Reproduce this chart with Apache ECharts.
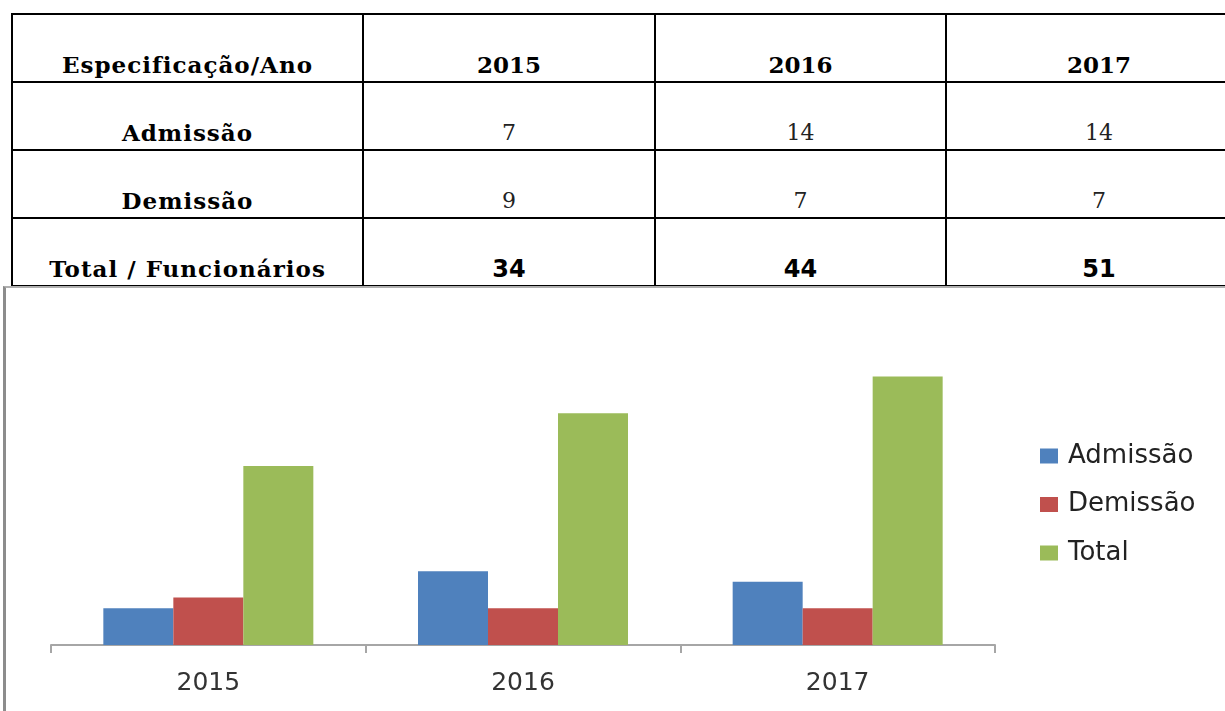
<!DOCTYPE html>
<html>
<head>
<meta charset="utf-8">
<script src="https://cdn.jsdelivr.net/npm/echarts@6/dist/echarts.min.js"></script>
<style>
  html, body { margin: 0; padding: 0; background: #fff; width: 1225px; height: 711px; overflow: hidden; position: relative; }
  #tabela { position: absolute; left: 11px; top: 13px; width: 1240px; border-collapse: collapse; table-layout: fixed; }
  #tabela td { border: 2px solid #000; height: 62px; padding: 0 0 4px 0; text-align: center; vertical-align: bottom; line-height: 24px; }
  #tabela td.rot { font-family: 'DejaVu Serif', serif; font-weight: bold; font-size: 23px; letter-spacing: 1px; }
  #tabela td.ano { font-family: 'DejaVu Serif', serif; font-weight: bold; font-size: 23px; }
  #tabela td.val { font-family: 'DejaVu Serif', serif; font-size: 22px; color: #222; }
  #tabela td.tot { font-family: 'DejaVu Sans', sans-serif; font-weight: bold; font-size: 24px; }
  #moldura { position: absolute; left: 3px; top: 286px; width: 1230px; height: 430px; border-left: 3px solid #8c8c8c; border-top: 2px solid #b0b0b0; }
  #main { position: absolute; left: 6px; top: 288px; width: 1219px; height: 423px; }
</style>
</head>
<body>
<table id="tabela"></table>
<div id="moldura"></div>
<div id="main"></div>
<script>
// dados
const anos = ['2015', '2016', '2017'];
const cabecalho = 'Especificação/Ano';
const linhas = ['Admissão', 'Demissão', 'Total / Funcionários'];
const tabAdmissao = [7, 14, 14];
const tabDemissao = [9, 7, 7];
const tabTotal = [34, 44, 51];
const barAdmissao = [7, 14, 12];
const barDemissao = [9, 7, 7];
const barTotal = [34, 44, 51];
const legendaNomes = ['Admissão', 'Demissão', 'Total'];

// tabela
const tabela = document.getElementById('tabela');
const larguras = [351, 292, 291, 306];
let html = '<colgroup>' + larguras.map(w => '<col style="width:' + w + 'px">').join('') + '</colgroup>';
html += '<tr><td class="rot">' + cabecalho + '</td>' + anos.map(a => '<td class="ano">' + a + '</td>').join('') + '</tr>';
[tabAdmissao, tabDemissao, tabTotal].forEach((vals, i) => {
  const cls = i === 2 ? 'tot' : 'val';
  html += '<tr><td class="rot">' + linhas[i] + '</td>' + vals.map(v => '<td class="' + cls + '">' + v + '</td>').join('') + '</tr>';
});
tabela.innerHTML = html;

// grafico
const chart = echarts.init(document.getElementById('main'));
const cores = ['#4F81BD', '#C0504D', '#9BBB59'];
const serieDados = [barAdmissao, barDemissao, barTotal];

const option = {
  animation: false,
  color: cores,
  legend: {
    orient: 'vertical',
    left: 1034,
    top: 155,
    padding: 0,
    itemWidth: 18,
    itemHeight: 15,
    itemGap: 22.5,
    icon: 'rect',
    data: legendaNomes,
    textStyle: {
      fontFamily: 'DejaVu Sans',
      fontSize: 26,
      lineHeight: 25,
      color: '#222',
      padding: [0, 0, 0, 5]
    }
  },
  grid: {
    left: 45,
    top: 41,
    width: 944,
    height: 316
  },
  xAxis: {
    type: 'category',
    data: anos,
    boundaryGap: true,
    axisLine: { show: true, lineStyle: { color: '#a6a6a6', width: 2 } },
    axisTick: { show: true, length: 8, lineStyle: { color: '#a6a6a6', width: 2 } },
    axisLabel: { fontFamily: 'DejaVu Sans', fontSize: 25, color: '#333', margin: 26 },
    splitLine: { show: false }
  },
  yAxis: {
    type: 'value',
    min: 0,
    max: 60,
    show: false,
    splitLine: { show: false }
  },
  series: legendaNomes.map((nome, i) => ({
    name: nome,
    type: 'bar',
    barWidth: 70,
    barGap: '0%',
    data: serieDados[i],
    itemStyle: { color: cores[i] }
  }))
};
chart.setOption(option);
</script>
</body>
</html>
